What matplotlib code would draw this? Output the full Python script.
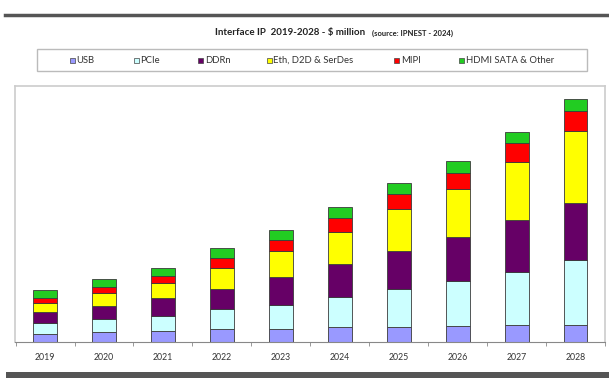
import matplotlib
matplotlib.use("Agg")
import matplotlib.pyplot as plt
from matplotlib.patches import Rectangle
from matplotlib.lines import Line2D
import numpy as np

plt.rcParams['font.family'] = ['Lato', 'DejaVu Sans']

# Datos ($ millones)
years = ['2019', '2020', '2021', '2022', '2023', '2024', '2025', '2026', '2027', '2028']
usb = [141, 170, 199, 221, 228, 255, 267, 277, 289, 294]
pcie = [182, 221, 255, 340, 413, 522, 634, 765, 913, 1105]
ddrn = [187, 233, 294, 340, 464, 556, 651, 753, 879, 974]
eth_d2d = [153, 209, 255, 369, 442, 549, 709, 811, 991, 1219]
mipi = [97, 114, 131, 170, 199, 226, 255, 277, 311, 345]
hdmi_other = [131, 124, 136, 158, 170, 187, 187, 199, 187, 192]

labels = ['USB', 'PCIe', 'DDRn', 'Eth, D2D & SerDes', 'MIPI', 'HDMI SATA & Other']
colors = ['#9999FF', '#CCFFFF', '#660066', '#FFFF00', '#FF0000', '#22CC22']
series = [usb, pcie, ddrn, eth_d2d, mipi, hdmi_other]

W, H = 609, 378
fig = plt.figure(figsize=(W / 100, H / 100), dpi=100)

def fx(x):
    return x / W

def fy(y):
    return 1 - y / H

# Area del grafico
left, right, top, base = 15, 605, 86, 342.3
ax = fig.add_axes([fx(left), fy(base), fx(right - left), (base - top) / H])
x = np.arange(len(years))
bottom = np.zeros(len(years))
for vals, col, lab in zip(series, colors, labels):
    ax.bar(x, vals, width=0.406, bottom=bottom, color=col, edgecolor='#3a3a3a',
           linewidth=0.6, label=lab, zorder=2)
    bottom += np.array(vals)

ax.set_xlim(-0.51, 9.47)
ax.set_ylim(0, (base - top) * 17)
ax.set_yticks([])
ax.set_xticks(x)
ax.set_xticklabels(years, fontsize=6.3, color='#333333')
ax.set_xticks(np.arange(-0.5, 10, 1), minor=True)
ax.tick_params(axis='x', which='major', length=0, pad=8)
ax.tick_params(axis='x', which='minor', length=3, color='#888888')
for s in ['left', 'top', 'right']:
    ax.spines[s].set_color('#cccccc')
    ax.spines[s].set_linewidth(1.2)
ax.spines['bottom'].set_color('#888888')
ax.spines['bottom'].set_linewidth(0.8)

# Lineas grises arriba y abajo
fig.add_artist(Line2D([fx(5), 1], [fy(14.5), fy(14.5)], color='#555555', lw=2.5))
fig.add_artist(Rectangle((fx(6), 0), 1 - fx(6), 6.5 / H, color='#555555', lw=0))

# Titulo
fig.text(fx(215), fy(33), 'Interface IP  2019-2028 - $ million', fontsize=7,
         fontweight='bold', color='#222222', va='center', ha='left')
fig.text(fx(372), fy(33.5), '(source: IPNEST - 2024)', fontsize=5.5,
         fontweight='bold', color='#222222', va='center', ha='left')

# Leyenda manual
fig.add_artist(Rectangle((fx(36.5), fy(71)), fx(587 - 36.5), 22 / H, fill=False,
                         edgecolor='#bbbbbb', lw=1.0))
legend_x = [72.7, 136, 200.7, 269, 396.7, 461.7]
for lx, col, lab in zip(legend_x, colors, labels):
    fig.add_artist(Rectangle((fx(lx - 2.5), fy(63)), 5 / W, 5 / H, facecolor=col,
                             edgecolor='#444444', lw=0.5))
    fig.text(fx(lx + 4), fy(60.5), lab, fontsize=6.8, color='#333333',
             va='center', ha='left')

fig.savefig('out.png', dpi=100)
